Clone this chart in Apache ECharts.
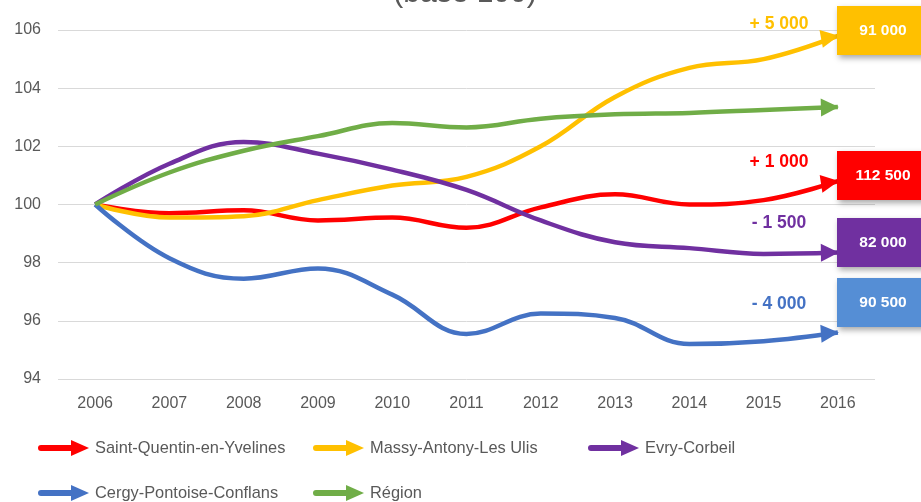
<!DOCTYPE html>
<html>
<head>
<meta charset="utf-8">
<script src="https://cdn.jsdelivr.net/npm/echarts@6/dist/echarts.min.js"></script>
<style>
  html, body { margin: 0; padding: 0; background: #fff; }
  #chart { width: 921px; height: 502px; }
</style>
</head>
<body>
<div id="chart"></div>
<script>
const years = ['2006', '2007', '2008', '2009', '2010', '2011', '2012', '2013', '2014', '2015', '2016']
const yTicks = [94, 96, 98, 100, 102, 104, 106]

const sqy = [100, 99.7, 99.8, 99.45, 99.55, 99.2, 99.9, 100.35, 100.0, 100.15, 100.8]
const massy = [100, 99.55, 99.6, 100.15, 100.65, 100.95, 102.0, 103.7, 104.7, 105.0, 105.8]
const evry = [100, 101.4, 102.15, 101.75, 101.2, 100.5, 99.45, 98.7, 98.5, 98.3, 98.35]
const cergy = [100, 98.15, 97.45, 97.8, 96.9, 95.55, 96.25, 96.1, 95.2, 95.3, 95.6]
const region = [100, 101.1, 101.85, 102.35, 102.8, 102.65, 102.95, 103.1, 103.15, 103.25, 103.35]

const names = ['Saint-Quentin-en-Yvelines', 'Massy-Antony-Les Ulis', 'Evry-Corbeil', 'Cergy-Pontoise-Conflans', 'Région']
const values = [sqy, massy, evry, cergy, region]
const colors = ['#FF0000', '#FFC000', '#7030A0', '#4472C4', '#70AD47']

// annotations on the right: delta text and 2016 totals
const deltas = ['+ 1 000', '+ 5 000', '- 1 500', '- 4 000', null]
const totals = ['112 500', '91 000', '82 000', '90 500', null]

const FONT = '"Liberation Sans", Arial, sans-serif'
const arrowIcon = 'path://M3,5 L33,5 L33,0 L51,8 L33,16 L33,11 L3,11 A3,3 0 0 1 3,5 Z'

const chart = echarts.init(document.getElementById('chart'))

const buildSeries = (ends) => values.map((vals, i) => ({
  name: names[i],
  type: 'line',
  smooth: 0.4,
  symbol: 'none',
  z: 3,
  lineStyle: { width: 4.5, color: colors[i] },
  itemStyle: { color: colors[i] },
  data: vals.map((v, j) => j === vals.length - 1
    ? {
        value: v,
        symbol: 'triangle',
        symbolSize: [18, 18],
        symbolRotate: ends ? ends[i].rot : -90,
        symbolOffset: ends ? ends[i].off : [-8, 0]
      }
    : v)
}))

// legend placement: two rows, three columns
const legendPos = [[38, 440], [313, 440], [588, 440], [38, 485], [313, 485]]
const legends = names.map((n, i) => ({
  data: [n],
  left: legendPos[i][0],
  top: legendPos[i][1],
  padding: 0,
  icon: arrowIcon,
  itemWidth: 51,
  itemHeight: 16,
  itemGap: 6,
  selectedMode: false,
  textStyle: { color: '#595959', fontSize: 16.4, fontFamily: FONT, padding: [0, 0, 0, 1] }
}))

// right side boxes
const boxTops = [151, 6, 218, 278]
const graphics = []
totals.forEach((t, i) => {
  if (!t) return
  graphics.push({
    type: 'rect',
    left: 837,
    top: boxTops[i],
    z: 100,
    shape: { x: 0, y: 0, width: 90, height: 49 },
    style: { fill: colors[i] === '#4472C4' ? '#558ED5' : colors[i], shadowBlur: 6, shadowOffsetX: 2, shadowOffsetY: 3, shadowColor: 'rgba(0,0,0,0.35)' }
  })
  graphics.push({
    type: 'text',
    x: 883,
    y: boxTops[i] + 25,
    z: 101,
    style: { text: t, fill: '#fff', font: 'bold 15.5px ' + FONT, align: 'center', verticalAlign: 'middle' }
  })
})
const deltaY = [162, 24, 223, 304]
deltas.forEach((d, i) => {
  if (!d) return
  graphics.push({
    type: 'text',
    x: 779,
    y: deltaY[i],
    z: 100,
    style: { text: d, fill: colors[i], font: 'bold 17.5px ' + FONT, align: 'center', verticalAlign: 'middle' }
  })
})
graphics.push({
  type: 'text',
  x: 465,
  y: -6,
  z: 100,
  style: { text: '(base 100)', fill: '#595959', font: '30px ' + FONT, align: 'center', verticalAlign: 'middle' }
})

const option = {
  animation: false,
  grid: { left: 58, right: 46, top: 30, bottom: 123 },
  legend: legends,
  xAxis: {
    type: 'category',
    data: years,
    boundaryGap: true,
    axisLine: { show: false },
    axisTick: { show: false },
    axisLabel: { color: '#595959', fontSize: 16, fontFamily: FONT, margin: 17 }
  },
  yAxis: {
    type: 'value',
    min: yTicks[0],
    max: yTicks[yTicks.length - 1],
    interval: 2,
    axisLine: { show: false },
    axisTick: { show: false },
    axisLabel: { color: '#595959', fontSize: 16, fontFamily: FONT, margin: 17 },
    splitLine: { lineStyle: { color: '#D9D9D9', width: 1 } }
  },
  graphic: graphics,
  series: buildSeries(null)
}

chart.setOption(option)

// orient end arrows along the last segment of each line, tip on the last point
const ends = values.map((vals) => {
  const n = vals.length
  const a = chart.convertToPixel({ seriesIndex: 0 }, [n - 2, vals[n - 2]])
  const b = chart.convertToPixel({ seriesIndex: 0 }, [n - 1, vals[n - 1]])
  const ang = Math.atan2(-(b[1] - a[1]) * 0.6, b[0] - a[0])
  return {
    rot: ang * 180 / Math.PI - 90,
    off: [-8 * Math.cos(ang), 8 * Math.sin(ang)]
  }
})
chart.setOption({ series: buildSeries(ends) })
</script>
</body>
</html>
